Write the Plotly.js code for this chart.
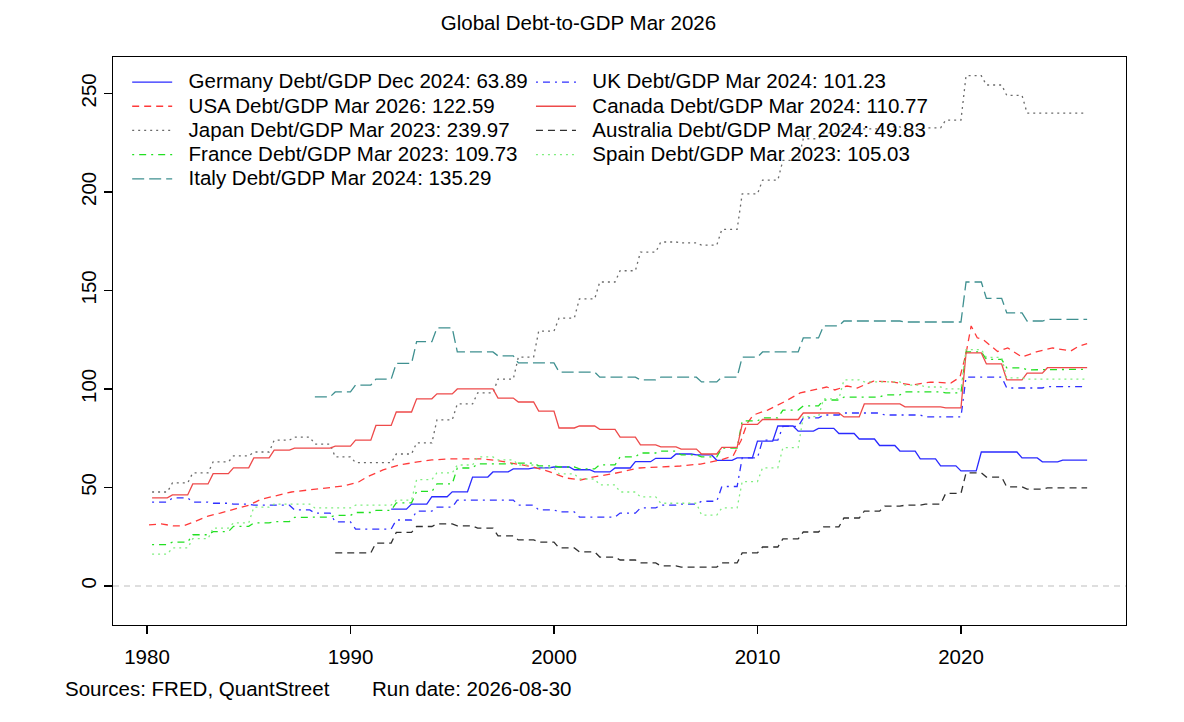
<!DOCTYPE html>
<html>
<head>
<meta charset="utf-8">
<script src="https://cdn.plot.ly/plotly-3.0.1.min.js"></script>
<style>
  html, body { margin: 0; padding: 0; background: #fff; }
  #chart { width: 1184px; height: 722px; }
</style>
</head>
<body>
<div id="chart"></div>
<script>
// annual series, each value is the level for that year
const years = [1980, 1981, 1982, 1983, 1984, 1985, 1986, 1987, 1988, 1989,
  1990, 1991, 1992, 1993, 1994, 1995, 1996, 1997, 1998, 1999,
  2000, 2001, 2002, 2003, 2004, 2005, 2006, 2007, 2008, 2009,
  2010, 2011, 2012, 2013, 2014, 2015, 2016, 2017, 2018, 2019,
  2020, 2021, 2022, 2023, 2024, 2025];
const END = 2026.2;

const japan = [47.7, 52.3, 57.4, 63, 66, 68, 74, 75.6, 72, 65.5,
  62.6, 62.6, 67, 72.6, 84.3, 92.4, 98, 105, 116.2, 129.4,
  136, 145.7, 154.3, 160, 169.5, 174.6, 174.2, 173, 181, 199,
  206, 216, 227, 230, 232, 232, 233, 232, 232.5, 236.5,
  259, 254.3, 249, 240, 240, 240];
const canada = [44.7, 46.2, 51.8, 57, 60, 65, 69, 70, 70, 71,
  74, 81.5, 88.3, 95, 97.5, 100, 100, 95.4, 93.4, 88.8,
  80.2, 81.2, 79.5, 75.6, 71.6, 70.6, 69.5, 67, 70.4, 82,
  84.5, 84.5, 87.8, 87.8, 85.8, 92.4, 92.4, 90.9, 90.9, 90.4,
  118.3, 112.7, 104.6, 108, 110.8, 110.8];
const uk = [42.6, 44.7, 42.6, 42, 41.6, 41, 41, 38.6, 37, 32.5,
  28.9, 28.9, 33.5, 38, 40, 43.6, 43.6, 43.6, 41, 38.6,
  37.6, 35, 35, 37, 39.6, 41, 41.6, 43, 50.5, 65,
  74, 81, 85.3, 86.8, 87.8, 87.8, 86.8, 86.8, 85.8, 85.8,
  106, 106, 100.5, 100.5, 101.2, 101.2];
const france = [21, 22.3, 26, 27.6, 30.3, 32, 32.7, 34.8, 35, 35.8,
  37.3, 38.4, 42.2, 48, 51.8, 59.9, 62, 62, 62.4, 61,
  60.4, 59.4, 61.5, 65.5, 67.5, 68.5, 66.5, 65.5, 70, 83.8,
  85.3, 89.3, 91.4, 94.4, 95.9, 95.9, 97, 98.5, 98.5, 98,
  118.8, 115, 110.7, 109.7, 110, 110];
const spain = [16.2, 19.3, 24, 29.4, 32, 40, 41.6, 41.6, 39.6, 39.6,
  41, 41, 43.6, 54, 57.4, 61.4, 65.5, 64, 61.4, 60,
  56.9, 54.3, 51.3, 47.7, 45.2, 42, 42, 36, 39.6, 53,
  60, 70.2, 86, 95, 104.6, 103.6, 103.6, 102, 101, 100,
  120, 116, 105.6, 105, 105, 105];
// from 1988
const italy = [96, 98.5,
  102, 105, 113, 124, 131, 118.8, 118.8, 116.8, 113.2, 113.2,
  108.6, 108.6, 106, 106, 104.6, 106, 106, 103.6, 106, 116.2,
  118.8, 118.8, 125.9, 132, 134.5, 134.5, 134.5, 134, 134, 134,
  154.3, 146, 138.6, 134.5, 135.3, 135.3];
// from 1989
const australia = [16.8,
  16.8, 21.8, 27.2, 30.2, 31.5, 30.5, 29.4, 25.4, 23.4, 22.3,
  19.3, 17.3, 14.7, 13.2, 11.7, 10.2, 9.6, 9.6, 11.7, 16.8,
  19.8, 23.9, 27.4, 30, 34.5, 38, 40.5, 41, 41.6, 47,
  57.4, 55.3, 50.3, 49.2, 49.8, 49.8];
// from 1992 (year-end dated)
const germany = [39, 41.6, 45.3, 47.8, 55.3, 57.9, 59.4, 60,
  60.4, 59, 57.9, 59.9, 63.1, 64.8, 67, 66.5, 63.8, 65,
  73.5, 81.2, 78.6, 80, 77.4, 74.6, 71.3, 68.5, 64.5, 61,
  58.4, 68, 68, 65, 63, 63.9];

// USA is quarterly
const usaDates = [1980.1, 1980.7, 1981.3, 1981.8, 1982.3, 1983.0, 1983.6, 1984.3, 1985.0, 1985.6,
  1986.5, 1987.1, 1987.9, 1988.9, 1989.7, 1990.4, 1990.8, 1991.6, 1992.4, 1993.3,
  1994.0, 1994.9, 1995.7, 1996.5, 1997.3, 1998.2, 1999.0, 1999.8, 2000.6, 2001.3,
  2001.9, 2002.9, 2003.7, 2004.2, 2005.2, 2006.2, 2007.2, 2008.2, 2008.8, 2009.2,
  2009.5, 2009.8, 2010.5, 2011.3, 2012.1, 2012.7, 2013.4, 2013.8, 2014.4, 2014.9,
  2015.7, 2016.6, 2017.6, 2018.5, 2019.5, 2019.95, 2020.25, 2020.5, 2020.8, 2021.1,
  2021.8, 2022.3, 2023.0, 2023.7, 2024.5, 2025.4, 2025.8, 2026.2];
const usa = [31, 31.5, 30.5, 30.5, 32.5, 35.5, 37, 39, 41, 44,
  46, 47.7, 48.7, 49.7, 50.8, 52.8, 55.3, 58.9, 61.4, 63,
  64, 64.5, 64.5, 64.5, 63.5, 62, 60.4, 57.9, 54.8, 53.8,
  55.3, 57, 58.9, 59.9, 60.4, 60.9, 61.9, 64, 66, 74,
  82.7, 86.8, 89.3, 93.4, 98, 99.5, 101, 99.5, 101.5, 100.5,
  104, 103.6, 102, 103.5, 103, 106, 118, 132, 126, 125,
  119, 120.8, 116.2, 118.8, 120.8, 119.3, 121.8, 123];

const legendNames = {
  germany: 'Germany Debt/GDP Dec 2024: 63.89',
  usa: 'USA Debt/GDP Mar 2026: 122.59',
  japan: 'Japan Debt/GDP Mar 2023: 239.97',
  france: 'France Debt/GDP Mar 2023: 109.73',
  italy: 'Italy Debt/GDP Mar 2024: 135.29',
  uk: 'UK Debt/GDP Mar 2024: 101.23',
  canada: 'Canada Debt/GDP Mar 2024: 110.77',
  australia: 'Australia Debt/GDP Mar 2024: 49.83',
  spain: 'Spain Debt/GDP Mar 2023: 105.03'
};

// annual values are carried forward quarterly, so each year is a flat run
function steps(vals, firstYear, lag) {
  const yrs = years.slice(years.indexOf(firstYear), years.indexOf(firstYear) + vals.length);
  const x = [], y = [];
  yrs.forEach((yr, i) => {
    const last = i === yrs.length - 1;
    x.push(yr + lag, last ? END : yr + lag + 0.75);
    y.push(vals[i], vals[i]);
  });
  return { x, y };
}

const FONT = 'Liberation Sans, Arial, Helvetica, sans-serif';
const FS = 20.5;
const LW = 1.3;
const DASHED = '7px,5px', DOTTED = '2px,4px', DOTDASH = '2px,5px,7px,5px', LONGDASH = '12px,5px';

function trace(key, xy, color, dash, legend) {
  return {
    type: 'scatter', mode: 'lines',
    x: xy.x, y: xy.y,
    // R leaves a wider gap between sample and label than plotly does
    name: '<span style="font-size:' + FS + 'px">\u00a0\u00a0' + legendNames[key] + '</span>',
    line: { color: color, width: LW, dash: dash },
    legend: legend,
    hoverinfo: 'skip'
  };
}

const data = [
  trace('germany', steps(germany, 1992, 0), '#2a2aff', 'solid', 'legend'),
  trace('usa', { x: usaDates, y: usa }, '#ff3a3a', DASHED, 'legend'),
  trace('japan', steps(japan, 1980, 0.25), '#6a6a6a', DOTTED, 'legend'),
  trace('france', steps(france, 1980, 0.25), '#22e022', DOTDASH, 'legend'),
  trace('italy', steps(italy, 1988, 0.25), '#3f9090', LONGDASH, 'legend'),
  trace('uk', steps(uk, 1980, 0.25), '#3030ff', DOTDASH, 'legend2'),
  trace('canada', steps(canada, 1980, 0.25), '#ee4a4a', 'solid', 'legend2'),
  trace('australia', steps(australia, 1989, 0.25), '#303030', DASHED, 'legend2'),
  trace('spain', steps(spain, 1980, 0.25), '#80ee80', DOTTED, 'legend2')
];

const legendBase = {
  xanchor: 'left', yanchor: 'top',
  bgcolor: 'rgba(0,0,0,0)', borderwidth: 0,
  font: { family: FONT, size: 16.3, color: '#000' },
  itemwidth: 40, tracegroupgap: 0, traceorder: 'normal',
  itemclick: false, itemdoubleclick: false
};

const layout = {
  width: 1184, height: 722,
  margin: { l: 113, r: 58, t: 57, b: 97 },
  paper_bgcolor: '#fff', plot_bgcolor: '#fff',
  font: { family: FONT, size: FS, color: '#000' },
  title: {
    text: 'Global Debt-to-GDP Mar 2026',
    font: { family: FONT, size: FS, color: '#000' },
    xref: 'container', x: 0.4886, xanchor: 'center',
    yref: 'container', y: 0.968, yanchor: 'middle'
  },
  xaxis: {
    range: [1978.33, 2028.11],
    tickvals: [1980, 1990, 2000, 2010, 2020],
    ticks: 'outside', ticklen: 8, tickwidth: 1.3, tickcolor: '#000',
    ticklabelstandoff: 5,
    showgrid: false, zeroline: false,
    showline: true, mirror: true, linecolor: '#000', linewidth: 1.3,
    tickfont: { family: FONT, size: FS, color: '#000' }
  },
  yaxis: {
    range: [-19.8, 268.5],
    tickvals: [0, 50, 100, 150, 200, 250],
    tickangle: -90,
    ticks: 'outside', ticklen: 8, tickwidth: 1.3, tickcolor: '#000',
    showgrid: false, zeroline: false,
    showline: true, mirror: true, linecolor: '#000', linewidth: 1.3,
    tickfont: { family: FONT, size: FS, color: '#000' }
  },
  showlegend: true,
  legend: Object.assign({}, legendBase, { x: 0.014, y: 0.986 }),
  legend2: Object.assign({}, legendBase, { x: 0.4126, y: 0.986 }),
  shapes: [{
    type: 'line', xref: 'paper', x0: 0, x1: 1, yref: 'y', y0: 0, y1: 0,
    line: { color: '#bdbdbd', width: 1.2, dash: '6px,5px' }, layer: 'below'
  }],
  annotations: [
    { text: 'Sources: FRED, QuantStreet', xref: 'paper', yref: 'paper',
      x: -0.0494, y: -0.111, xanchor: 'left', yanchor: 'middle', showarrow: false,
      font: { family: FONT, size: FS, color: '#000' } },
    { text: 'Run date: 2026-08-30', xref: 'paper', yref: 'paper',
      x: 0.2537, y: -0.111, xanchor: 'left', yanchor: 'middle', showarrow: false,
      font: { family: FONT, size: FS, color: '#000' } }
  ]
};

Plotly.newPlot('chart', data, layout, { staticPlot: true, displayModeBar: false });
</script>
</body>
</html>
